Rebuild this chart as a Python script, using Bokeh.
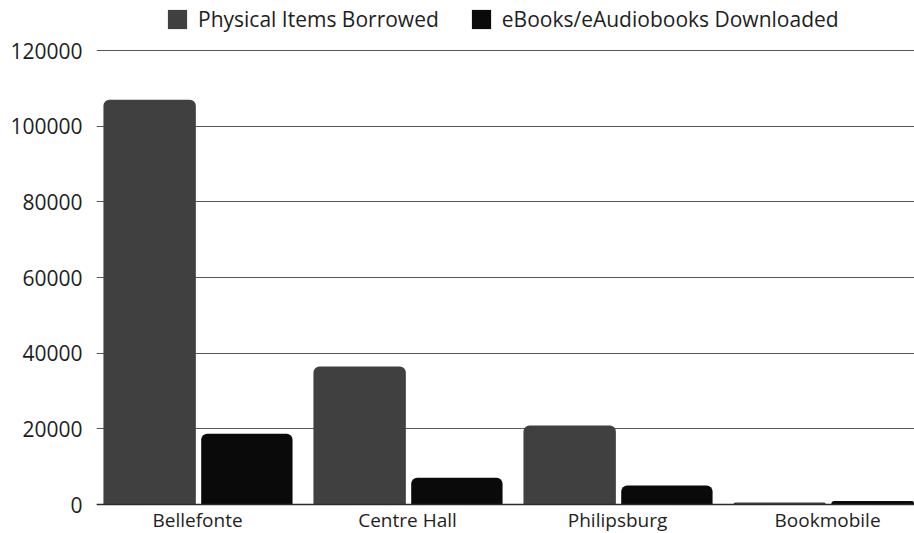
from bokeh.plotting import figure
from bokeh.models import ColumnDataSource, Range1d, FixedTicker, Legend, LegendItem, Span
from bokeh.core.properties import value
from bokeh.embed import file_html
from bokeh.resources import INLINE

branches = ["Bellefonte", "Centre Hall", "Philipsburg", "Bookmobile"]
physical = [107000, 36500, 20900, 500]
ebooks = [18700, 7100, 5000, 900]
y_ticks = [0, 20000, 40000, 60000, 80000, 100000, 120000]
series_names = ["Physical Items Borrowed", "eBooks/eAudiobooks Downloaded"]

FONT = "Open Sans"
TEXT = "#1e1e1e"

xc = [i + 0.5 for i in range(len(branches))]
src = ColumnDataSource(dict(
    x_phys=[x - 0.228 for x in xc],
    x_eb=[x + 0.235 for x in xc],
    physical=physical,
    ebooks=ebooks,
))
lab_src = ColumnDataSource(dict(x=xc, y=[0] * len(branches), text=branches))

p = figure(width=914, height=533, output_backend="svg", toolbar_location=None,
           x_range=Range1d(0.019, 3.914), y_range=Range1d(-7665, 133216),
           x_axis_location=None,
           min_border_left=96, min_border_right=0, min_border_top=0, min_border_bottom=0)
p.background_fill_color = "white"
p.border_fill_color = "white"
p.outline_line_color = None

p.ygrid.grid_line_color = "#3a3a3a"
p.ygrid.grid_line_width = 1
p.ygrid.grid_line_alpha = 0.85
p.xgrid.grid_line_color = None
p.ygrid.ticker = FixedTicker(ticks=y_ticks)

r1 = p.vbar(x="x_phys", top="physical", bottom=0, width=0.44, source=src,
            fill_color="#404040", line_color=None, border_radius=(6, 6, 0, 0))
r2 = p.vbar(x="x_eb", top="ebooks", bottom=0, width=0.435, source=src,
            fill_color="#0a0a0a", line_color=None, border_radius=(6, 6, 0, 0))

p.add_layout(Span(location=0, dimension="width", line_color="#2a2a2a", line_width=1.5))

p.text(x="x", y="y", text="text", source=lab_src, y_offset=15,
       text_align="center", text_baseline="middle",
       text_font=value(FONT), text_font_size="19px", text_color=TEXT)

p.yaxis.ticker = FixedTicker(ticks=y_ticks)
p.yaxis.axis_line_color = None
p.yaxis.major_tick_line_color = None
p.yaxis.minor_tick_line_color = None
p.yaxis.major_tick_out = 0
p.yaxis.major_tick_in = 0
p.yaxis.major_label_text_font = FONT
p.yaxis.major_label_text_font_size = "21px"
p.yaxis.major_label_text_color = TEXT
p.yaxis.major_label_standoff = 14
p.yaxis.formatter.use_scientific = False

legend = Legend(items=[LegendItem(label=series_names[0], renderers=[r1]),
                       LegendItem(label=series_names[1], renderers=[r2])],
                orientation="horizontal", location=(69, 500),
                glyph_width=24, glyph_height=24, label_standoff=9, spacing=30,
                padding=0, margin=0, border_line_color=None,
                background_fill_alpha=0,
                label_text_font=FONT, label_text_font_size="21px",
                label_text_color=TEXT, label_height=24)
p.add_layout(legend)

open("out.html", "w").write(file_html(p, INLINE))
